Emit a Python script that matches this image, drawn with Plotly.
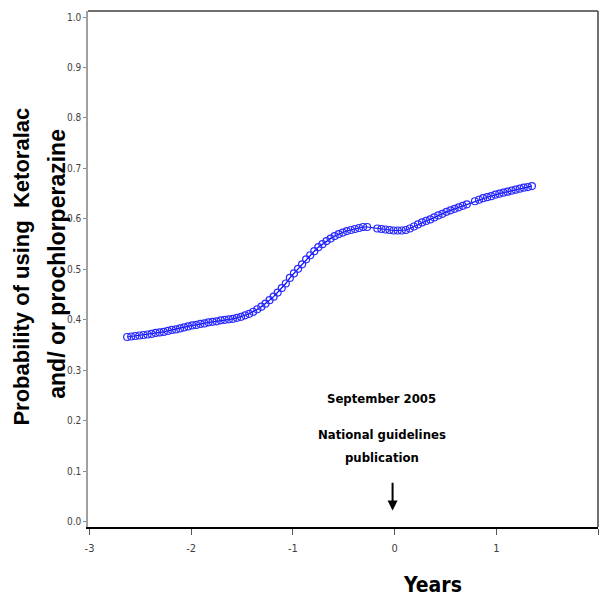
import plotly.graph_objects as go

years = [-2.63, -2.59, -2.55, -2.51, -2.47, -2.43, -2.39, -2.35, -2.31,
         -2.27, -2.23, -2.19, -2.15, -2.11, -2.07, -2.03, -1.99,
         -1.95, -1.91, -1.87, -1.83, -1.79, -1.75, -1.71, -1.67, -1.63, -1.59, -1.55, -1.51, -1.47,
         -1.43, -1.39, -1.35, -1.31, -1.27, -1.23, -1.19, -1.15, -1.11, -1.07, -1.03, -0.99,
         -0.95, -0.91, -0.87, -0.83, -0.79, -0.75, -0.71, -0.67, -0.63, -0.59, -0.55, -0.51,
         -0.47, -0.43, -0.39, -0.35, -0.31, -0.27,
         -0.17, -0.13, -0.09, -0.05, -0.01, 0.03, 0.07, 0.11, 0.15, 0.19, 0.23, 0.27, 0.31,
         0.35, 0.39, 0.43, 0.47, 0.51, 0.55, 0.59, 0.63, 0.67, 0.71,
         0.79, 0.83, 0.87, 0.91, 0.95, 0.99, 1.03, 1.07, 1.11, 1.15, 1.19, 1.23, 1.27, 1.31, 1.35]
probability = [0.366, 0.367, 0.368, 0.369, 0.370, 0.371, 0.372, 0.374, 0.375,
               0.376, 0.378, 0.380, 0.381, 0.383, 0.385, 0.387, 0.389,
               0.390, 0.392, 0.393, 0.395, 0.396, 0.397, 0.399, 0.400, 0.401, 0.402, 0.404, 0.406, 0.409,
               0.412, 0.416, 0.421, 0.426, 0.432, 0.439, 0.446, 0.454, 0.463, 0.472, 0.483, 0.492,
               0.501, 0.510, 0.520, 0.528, 0.536, 0.544, 0.550, 0.556, 0.561, 0.566, 0.570, 0.573,
               0.576, 0.578, 0.580, 0.582, 0.584, 0.584,
               0.581, 0.580, 0.579, 0.578, 0.577, 0.577, 0.577, 0.578, 0.581, 0.585, 0.589, 0.593, 0.596,
               0.599, 0.603, 0.607, 0.610, 0.614, 0.617, 0.620, 0.623, 0.626, 0.629,
               0.635, 0.638, 0.641, 0.643, 0.645, 0.648, 0.650, 0.652, 0.654, 0.656, 0.658, 0.660, 0.662, 0.663, 0.665]

x_ticks = [-3, -2, -1, 0, 1, 2]
x_tick_labels = ["-3", "-2", "-1", "0", "1", "2"]
y_ticks = [0.0, 0.1, 0.2, 0.3, 0.4, 0.5, 0.6, 0.7, 0.8, 0.9, 1.0]
event_x = 0
event_label = "September 2005"
event_line1 = "National guidelines"
event_line2 = "publication"

narrow = "DejaVu Sans Condensed, Liberation Sans Narrow, sans-serif"
bold = "Liberation Sans, Arial, sans-serif"

fig = go.Figure()
fig.add_trace(go.Scatter(
    x=years, y=probability, mode="lines+markers",
    line=dict(color="#0000ff", width=1.2),
    marker=dict(symbol="circle-open", size=7, color="#2a2aff", line=dict(width=1.2)),
    showlegend=False,
))

fig.update_layout(
    width=600, height=604,
    margin=dict(l=88, r=2, t=11, b=77),
    paper_bgcolor="white", plot_bgcolor="white",
    xaxis=dict(range=[-3.015, 2.0], tickvals=x_ticks, ticktext=x_tick_labels,
               ticks="outside", ticklen=6,
               tickcolor="#555555", showline=True, linecolor="black", linewidth=1.5,
               showgrid=False, zeroline=False, ticklabelstandoff=4,
               tickfont=dict(family=narrow, size=11, color="#404040")),
    yaxis=dict(range=[-0.0105, 1.012], tickvals=y_ticks, tickformat=".1f", ticks="outside",
               ticklen=3, tickcolor="#888888", showline=True, linecolor="#a0a0a0", linewidth=1.5,
               showgrid=False, zeroline=False,
               tickfont=dict(family=narrow, size=10, color="#404040")),
    shapes=[
        dict(type="line", xref="paper", yref="paper", x0=0, x1=1, y0=1, y1=1,
             line=dict(color="#404040", width=1.5)),
        dict(type="line", xref="paper", yref="paper", x0=1, x1=1, y0=0, y1=1,
             line=dict(color="#404040", width=1.5)),
    ],
    annotations=[
        dict(text="Probability of using  Ketoralac", xref="paper", yref="paper",
             x=-0.131, y=0.505, xanchor="center", yanchor="middle", textangle=-90,
             showarrow=False, font=dict(family=bold, size=22, color="black", weight="bold")),
        dict(text="and/ or prochlorperazine", xref="paper", yref="paper",
             x=-0.061, y=0.51, xanchor="center", yanchor="middle", textangle=-90,
             showarrow=False, font=dict(family=bold, size=23, color="black", weight="bold")),
        dict(text=event_label, x=event_x - 0.13, y=0.245, xref="x", yref="y",
             showarrow=False, font=dict(family=narrow, size=13, color="black", weight="bold")),
        dict(text=event_line1, x=event_x - 0.12, y=0.172, xref="x", yref="y",
             showarrow=False, font=dict(family=narrow, size=13, color="black", weight="bold")),
        dict(text=event_line2, x=event_x - 0.125, y=0.128, xref="x", yref="y",
             showarrow=False, font=dict(family=narrow, size=13, color="black", weight="bold")),
        dict(text="", x=event_x - 0.02, y=0.022, ax=event_x - 0.02, ay=0.08,
             xref="x", yref="y", axref="x", ayref="y", showarrow=True,
             arrowhead=2, arrowsize=1, arrowwidth=2, arrowcolor="black"),
        dict(text="Years", xref="x", yref="paper", x=0.37, y=-0.14,
             showarrow=False, font=dict(family=narrow, size=21, color="black", weight="bold")),
    ],
)

fig.write_html("out.html", config={"displayModeBar": False},
               post_script="document.body.style.margin='0';document.body.style.overflow='hidden';")
